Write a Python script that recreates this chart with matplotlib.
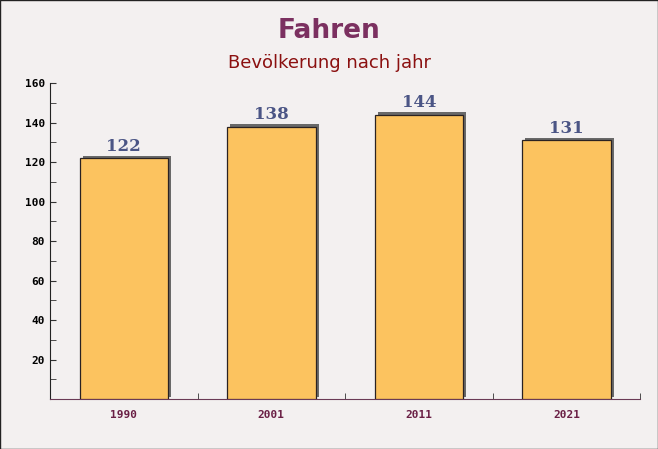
import matplotlib.pyplot as plt
import matplotlib.patheffects as pe
from matplotlib.ticker import MultipleLocator

# Data
years = ["1990", "2001", "2011", "2021"]
population = [122, 138, 144, 131]

fig = plt.figure(figsize=(6.58, 4.49), dpi=100)
fig.patch.set_facecolor("#f3f0f0")
ax = fig.add_axes([0.076, 0.111, 0.897, 0.704])
ax.set_facecolor("none")

x = range(len(years))
bars = ax.bar(x, population, width=0.6, color="#fcc35f",
              edgecolor="#2a2222", linewidth=0.9, zorder=3)
for b in bars:
    b.set_path_effects([pe.SimplePatchShadow(offset=(2.2, 1.8), shadow_rgbFace="#5a5a5a", alpha=0.9),
                        pe.Normal()])

for xi, v in zip(x, population):
    ax.annotate(str(v), (xi, v), xytext=(0, 2.5), textcoords="offset points",
                ha="center", va="bottom", fontsize=12, fontweight="bold",
                family="DejaVu Serif", color="#4b5585")

ax.set_xlim(-0.5, len(years) - 0.5)
ax.set_ylim(0, 160)
ax.set_xticks(list(x))
ax.set_xticklabels(years, family="DejaVu Sans Mono", fontweight="bold",
                   fontsize=8, color="#6a1f45")
ax.set_xticks([0.5, 1.5, 2.5, 3.5], minor=True)
ax.tick_params(axis="x", which="major", length=0, pad=8)
ax.tick_params(axis="x", which="minor", direction="in", length=4, color="#333333")

ax.yaxis.set_major_locator(MultipleLocator(20))
ax.yaxis.set_minor_locator(MultipleLocator(10))
ax.set_yticks([20, 40, 60, 80, 100, 120, 140, 160])
ax.set_yticklabels(["20", "40", "60", "80", "100", "120", "140", "160"],
                   family="DejaVu Sans Mono", fontweight="bold", fontsize=8)
ax.tick_params(axis="y", which="both", direction="in", length=4, color="#333333")

for s in ["top", "right"]:
    ax.spines[s].set_visible(False)
ax.spines["left"].set_color("#222222")
ax.spines["bottom"].set_color("#6a3a55")

fig.text(0.5, 0.93, "Fahren", ha="center", va="center", fontsize=19,
         fontweight="bold", color="#7b3060")
fig.text(0.5, 0.86, "Bevölkerung nach jahr", ha="center", va="center",
         fontsize=13, color="#8b1010")

fig.patches.append(plt.Rectangle((0, 0), 1, 1, transform=fig.transFigure,
                                 fill=False, edgecolor="#222222", linewidth=1.0))

fig.savefig("out.png", dpi=100, facecolor=fig.get_facecolor())
